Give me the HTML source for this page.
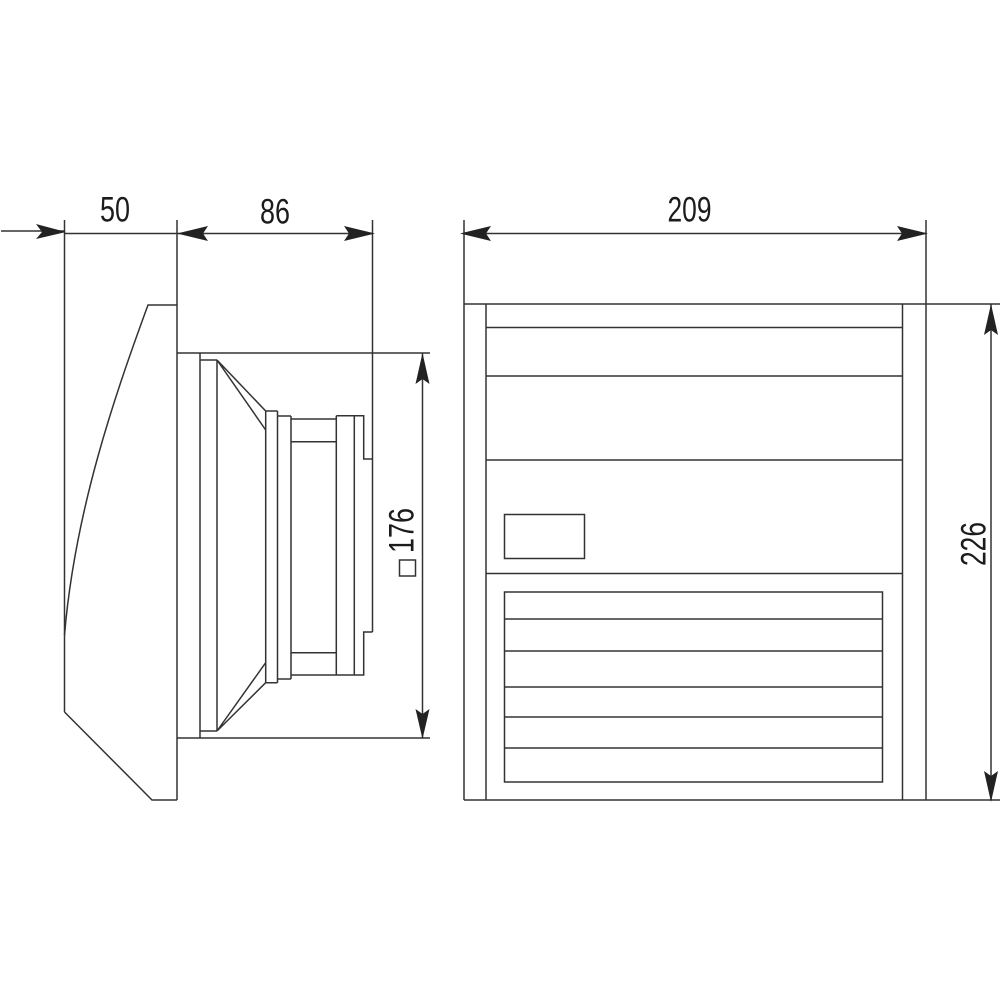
<!DOCTYPE html>
<html><head><meta charset="utf-8"><style>html,body{margin:0;padding:0;background:#fff}svg{display:block}text{font-family:"Liberation Sans",sans-serif;fill:#1c1c1c;font-size:35px}</style></head>
<body><svg width="1000" height="1000" viewBox="0 0 1000 1000" xmlns="http://www.w3.org/2000/svg">
<g fill="none" stroke="#333" stroke-width="1.5">
<!-- dimension -->
<path d="M64.500 220V712M177 220V800M372.500 220V632M1 231H64M64.500 233.500H372.500M464 220V800M926 220V304M464 233.500H926"/>
<path d="M926 304V800M464 304H1000M464 800H1000M177 353H430M177 738H430M991 304V800M422.500 353V738"/>
<!-- left body -->
<path d="M177 305H148C115 395 75 510 64.500 635M64.500 712L152 800H177"/>
<!-- fan -->
<path d="M200 353V738M217 360V731M200 360H217M200 731H217M217 360L265.700 411M217 360L265.700 430M217 731L265.700 682.700M217 731L265.700 662.700"/>
<path d="M265.700 411V682.700M277.500 411V682.700M265.700 411H277.500M265.700 682.700H277.500M277.500 416H291M277.500 679H291M291 416V679"/>
<path d="M291 419H336.300M291 441.700H336.300M291 652.700H336.300M291 675H336.300M336.300 415.700V675M354.300 415.700V675M336.300 415.700H363.700V459H372.500M372.500 632H363.700V675H336.300"/>
<!-- right -->
<path d="M486 304V800M902.500 304V800M486 327.500H902.500M486 376H902.500M486 460H902.500M486 573.500H902.500"/>
<rect x="504.500" y="514.500" width="80" height="44"/>
<rect x="504.500" y="592" width="378" height="190"/>
<path d="M504.500 619H882.500M504.500 651H882.500M504.500 687H882.500M504.500 717H882.500M504.500 748H882.500"/>
<rect x="399.500" y="560" width="16" height="16"/>
</g>
<g fill="#222" stroke="none">
<path d="M66 232L36 224L42 232L36 239Z"/>
<path d="M177 233.500L208 226L203 233.500L208 241Z"/>
<path d="M375 233.500L344 226L349 233.500L344 241Z"/>
<path d="M460 233.500L491 226L486 233.500L491 241Z"/>
<path d="M928 233.500L897 226L902 233.500L897 241Z"/>
<path d="M422.500 353L415.500 384L422.500 379L429.500 384Z"/>
<path d="M422.500 739L415.500 709L422.500 714L429.500 709Z"/>
<path d="M991 304L984 335L991 330L998 335Z"/>
<path d="M991 802L984 771L991 776L998 771Z"/>
</g>
<text x="100" y="221.500" textLength="30" lengthAdjust="spacingAndGlyphs">50</text>
<text x="260" y="223.500" textLength="30" lengthAdjust="spacingAndGlyphs">86</text>
<text x="667.500" y="221.500" textLength="44" lengthAdjust="spacingAndGlyphs">209</text>
<text transform="translate(413.500,553) rotate(-90)" textLength="45" lengthAdjust="spacingAndGlyphs">176</text>
<text transform="translate(985.500,566) rotate(-90)" textLength="44" lengthAdjust="spacingAndGlyphs">226</text>
</svg></body></html>
